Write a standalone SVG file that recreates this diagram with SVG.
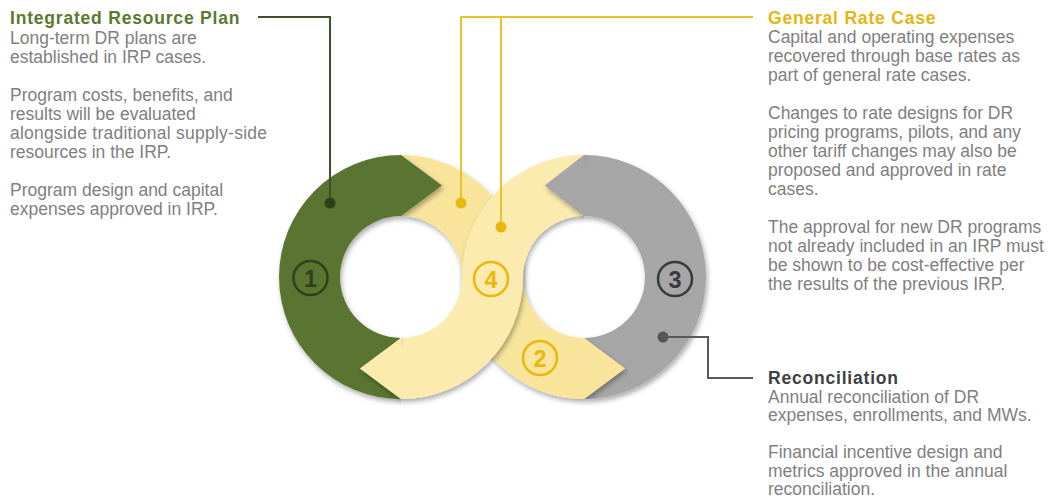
<svg xmlns="http://www.w3.org/2000/svg" width="1049" height="501" viewBox="0 0 1049 501">
<style>
  .body{font-family:"Liberation Sans",Arial,sans-serif;font-size:17.5px;fill:#7f7f7f}
  .title{font-family:"Liberation Sans",Arial,sans-serif;font-size:17.5px;font-weight:bold;letter-spacing:0.8px}
  .num{font-family:"Liberation Sans",Arial,sans-serif;font-size:23.5px;font-weight:bold;text-anchor:middle}
  .ring{fill:none;stroke-width:2.5}
  .conn{fill:none;stroke-width:2}
</style>
<defs>
  <filter id="sh" x="-20%" y="-20%" width="140%" height="140%">
    <feDropShadow dx="1.5" dy="3" stdDeviation="2.5" flood-color="#000" flood-opacity="0.33"/>
  </filter>
  <clipPath id="clipGrayTip" clipPathUnits="userSpaceOnUse"><rect x="0" y="0" width="584" height="501"/></clipPath>
  <clipPath id="clipYelTip" clipPathUnits="userSpaceOnUse"><rect x="0" y="0" width="401" height="501"/></clipPath>
</defs>
<rect width="1049" height="501" fill="#fff"/>

<!-- ring segments -->
<g id="seg-3-gray" filter="url(#sh)">
  <path fill="#a6a6a6" d="M584,155 A122,122 0 0 1 584,399 L625,368.5 L584,338 A61,61 0 0 0 584,216 L545,185.5 Z"/>
</g>
<g id="seg-2-band" filter="url(#sh)">
  <path fill="#f8e49b" d="M401,155 L442,185.5 L401,216 A61,61 0 0 1 462,277 L523,277 A122,122 0 0 0 401,155 Z M462,277 L523,277 A61,61 0 0 0 584,338 L625,368.5 L584,399 A122,122 0 0 1 462,277 Z"/>
</g>
<g id="seg-4-band" filter="url(#sh)">
  <path fill="#fcebae" d="M584,155 L545,185.5 L584,216 A61,61 0 0 0 523,277 L462,277 A122,122 0 0 1 584,155 Z M462,277 L523,277 A122,122 0 0 1 401,399 L360,368.5 L401,338 A61,61 0 0 0 462,277 Z"/>
</g>
<g id="seg-1-green" filter="url(#sh)">
  <path fill="#5a7530" d="M401,155 A122,122 0 0 0 401,399 L360,368.5 L401,338 A61,61 0 0 1 401,216 L442,185.5 Z"/>
</g>
<g id="tips">
  <g clip-path="url(#clipGrayTip)"><path filter="url(#sh)" fill="#a6a6a6" d="M584,155 L545,185.5 L584,216 Z"/></g>
  <g clip-path="url(#clipYelTip)"><path filter="url(#sh)" fill="#fcebae" d="M401,399 L360,368.5 L401,338 Z"/></g>
</g>

<!-- numbers -->
<g id="num-1">
  <circle class="ring" cx="310.5" cy="278" r="17" stroke="#2e4219"/>
  <text class="num" x="310.5" y="286.5" fill="#2e4219">1</text>
</g>
<g id="num-4">
  <circle class="ring" cx="491" cy="279" r="17" stroke="#e8b90c"/>
  <text class="num" x="491" y="287.5" fill="#e8b90c">4</text>
</g>
<g id="num-2">
  <circle class="ring" cx="540" cy="358" r="17" stroke="#e8b90c"/>
  <text class="num" x="540" y="366.5" fill="#e8b90c">2</text>
</g>
<g id="num-3">
  <circle class="ring" cx="675" cy="279" r="17" stroke="#3a3a3a"/>
  <text class="num" x="675" y="287.5" fill="#3a3a3a">3</text>
</g>

<!-- connectors -->
<g id="connectors">
  <path class="conn" stroke="#3e4f2a" d="M330,203 V17 H258"/>
  <circle cx="330" cy="203" r="5.5" fill="#2c3f1a"/>
  <path class="conn" stroke="#ecc22a" d="M461,203 V17 H753"/>
  <path class="conn" stroke="#ecc22a" d="M501,227 V17"/>
  <circle cx="461" cy="203" r="5.5" fill="#e8b90c"/>
  <circle cx="501" cy="227" r="5.5" fill="#e8b90c"/>
  <path class="conn" stroke="#595959" d="M663,337 H708 V378 H753"/>
  <circle cx="663" cy="337" r="5.5" fill="#555"/>
</g>

<!-- text blocks -->
<g id="irp">
  <text class="title" x="10" y="24" fill="#5b7a2e">Integrated Resource Plan</text>
  <text class="body" x="10" y="44">Long-term DR plans are</text>
  <text class="body" x="10" y="63">established in IRP cases.</text>
  <text class="body" x="10" y="101">Program costs, benefits, and</text>
  <text class="body" x="10" y="120">results will be evaluated</text>
  <text class="body" x="10" y="139" textLength="257">alongside traditional supply-side</text>
  <text class="body" x="10" y="158">resources in the IRP.</text>
  <text class="body" x="10" y="196">Program design and capital</text>
  <text class="body" x="10" y="215">expenses approved in IRP.</text>
</g>
<g id="grc">
  <text class="title" x="768" y="24" fill="#e6b511">General Rate Case</text>
  <text class="body" x="768" y="43">Capital and operating expenses</text>
  <text class="body" x="768" y="62">recovered through base rates as</text>
  <text class="body" x="768" y="81">part of general rate cases.</text>
  <text class="body" x="768" y="119">Changes to rate designs for DR</text>
  <text class="body" x="768" y="138">pricing programs, pilots, and any</text>
  <text class="body" x="768" y="157">other tariff changes may also be</text>
  <text class="body" x="768" y="176">proposed and approved in rate</text>
  <text class="body" x="768" y="195">cases.</text>
  <text class="body" x="768" y="233">The approval for new DR programs</text>
  <text class="body" x="768" y="252">not already included in an IRP must</text>
  <text class="body" x="768" y="271">be shown to be cost-effective per</text>
  <text class="body" x="768" y="290">the results of the previous IRP.</text>
</g>
<g id="recon">
  <text class="title" x="768" y="384" fill="#404040">Reconciliation</text>
  <text class="body" x="768" y="403">Annual reconciliation of DR</text>
  <text class="body" x="768" y="421">expenses, enrollments, and MWs.</text>
  <text class="body" x="768" y="458">Financial incentive design and</text>
  <text class="body" x="768" y="477">metrics approved in the annual</text>
  <text class="body" x="768" y="495">reconciliation.</text>
</g>
</svg>
